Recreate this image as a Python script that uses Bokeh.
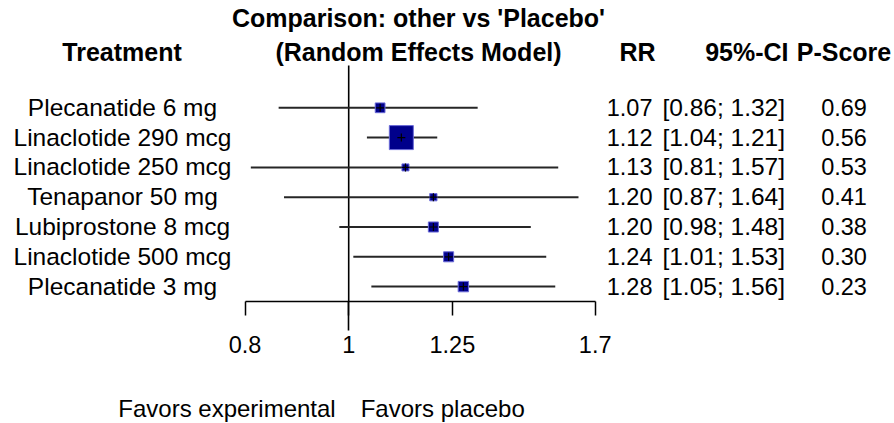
import math
from bokeh.plotting import figure
from bokeh.layouts import column
from bokeh.models import Range1d, FixedTicker, ColumnDataSource
from bokeh.core.properties import value
from bokeh.embed import file_html
from bokeh.resources import INLINE

# ---- data ----
treatments = ["Plecanatide 6 mg", "Linaclotide 290 mcg", "Linaclotide 250 mcg",
              "Tenapanor 50 mg", "Lubiprostone 8 mcg", "Linaclotide 500 mcg",
              "Plecanatide 3 mg"]
rr = [1.07, 1.12, 1.13, 1.20, 1.20, 1.24, 1.28]
lower = [0.86, 1.04, 0.81, 0.87, 0.98, 1.01, 1.05]
upper = [1.32, 1.21, 1.57, 1.64, 1.48, 1.53, 1.56]
pscore = [0.69, 0.56, 0.53, 0.41, 0.38, 0.30, 0.23]
ticks = [0.8, 1.0, 1.25, 1.7]
tick_labels = ["0.8", "1", "1.25", "1.7"]

title1 = "Comparison: other vs 'Placebo'"
title2 = "(Random Effects Model)"
headers = ["Treatment", "RR", "95%-CI", "P-Score"]
label_left = "Favors experimental"
label_right = "Favors placebo"

# ---- layout geometry (pixels of the 894x423 page) ----
W, H = 894, 423
HT = 372          # height of the forest part (rows + axis)
K = 464.5         # px per ln(RR) unit
X1 = 348.2        # px of RR = 1
ROW0 = 107.3      # px of first row
STEP = 29.8       # px between rows
FRAME_B = 301     # px of axis line
REF_TOP = 65      # px where the reference line starts
FONT = "Liberation Sans"
FS_NUM = "23.5px"
FS_CI = "24.5px"
FS_LAB = "24.5px"
FS_FAV = "24px"
FSB = "25px"


def xd(px):
    return math.exp((px - X1) / K)


def yd(py):
    return (py - ROW0) / STEP


ys = list(range(len(treatments)))
ci_w = [math.log(u / l) for l, u in zip(lower, upper)]
box = [22.0 * min(ci_w) / w + 2.0 for w in ci_w]
TY = -0.5 / STEP   # text centring tweak relative to the row line

src = ColumnDataSource(dict(
    y=ys, ty=[y + TY for y in ys], name=treatments, rr=rr, lo=lower, hi=upper,
    box=box,
    rr_txt=[f"{v:.2f}" for v in rr],
    ci_txt=[f"[{l:.2f}; {u:.2f}]" for l, u in zip(lower, upper)],
    ps_txt=[f"{v:.2f}" for v in pscore],
))

p = figure(width=W, height=HT, x_axis_type="log",
           x_range=Range1d(xd(0), xd(W)),
           y_range=Range1d(yd(FRAME_B), yd(0)),
           output_backend="svg", toolbar_location=None, y_axis_location=None,
           min_border_left=0, min_border_right=0, min_border_top=0,
           min_border_bottom=HT - FRAME_B)
p.grid.visible = False
p.outline_line_color = None

# reference line at RR = 1
p.segment(x0=1.0, y0=yd(REF_TOP), x1=1.0, y1=yd(FRAME_B), line_color="black", line_width=1.6)

# confidence intervals, boxes, centre crosses
p.segment(x0="lo", y0="y", x1="hi", y1="y", source=src, line_color="#262626", line_width=2)
p.scatter(x="rr", y="y", size="box", marker="square", source=src,
          fill_color="#00008B", line_color="#6a6ad8", line_width=1)
p.scatter(x="rr", y="y", size=8, marker="cross", source=src,
          line_color="black", line_width=1.2)

common = dict(text_font=value(FONT), text_color="black", text_baseline="middle")

# row texts
p.text(x=xd(122), y="ty", text="name", source=src, text_align="center",
       text_font_size=FS_LAB, **common)
p.text(x=xd(652), y="ty", text="rr_txt", source=src, text_align="right",
       text_font_size=FS_NUM, **common)
p.text(x=xd(784.5), y="ty", text="ci_txt", source=src, text_align="right",
       text_font_size=FS_CI, **common)
p.text(x=xd(843.5), y="ty", text="ps_txt", source=src, text_align="center",
       text_font_size=FS_NUM, **common)

# headers
bold = dict(common, text_font_size=FSB, text_font_style="bold")
p.text(x=[xd(418), xd(418)], y=[yd(17.5), yd(51)], text=[title1, title2],
       text_align="center", **bold)
p.text(x=[xd(121.5)], y=[yd(51)], text=[headers[0]], text_align="center", **bold)
p.text(x=[xd(655), xd(788)], y=[yd(51), yd(51)], text=[headers[1], headers[2]],
       text_align="right", **bold)
p.text(x=[xd(843.5)], y=[yd(51)], text=[headers[3]], text_align="center", **bold)

# x axis
ax = p.xaxis[0]
ax.ticker = FixedTicker(ticks=ticks, minor_ticks=[1.0])
ax.bounds = (min(ticks), max(ticks))
ax.axis_line_color = "black"
ax.axis_line_width = 1.5
ax.major_tick_line_color = "black"
ax.major_tick_line_width = 1.5
ax.minor_tick_line_color = "black"
ax.minor_tick_line_width = 1.6
ax.major_tick_in = 0
ax.major_tick_out = 14
ax.minor_tick_in = 0
ax.minor_tick_out = 29
ax.major_label_overrides = {t: s for t, s in zip(ticks, tick_labels)}
ax.major_label_text_font = FONT
ax.major_label_text_font_size = FS_NUM
ax.major_label_text_color = "black"
ax.major_label_standoff = 5

# bottom strip: favours labels around RR = 1
q = figure(width=W, height=H - HT, x_axis_type="log",
           x_range=Range1d(xd(0), xd(W)), y_range=Range1d(H, HT),
           output_backend="svg", toolbar_location=None,
           x_axis_location=None, y_axis_location=None,
           min_border=0)
q.grid.visible = False
q.outline_line_color = None
q.text(x=[1.0], y=[408], x_offset=-13, text=[label_left], text_align="right",
       text_font_size=FS_FAV, **common)
q.text(x=[1.0], y=[408], x_offset=12, text=[label_right], text_align="left",
       text_font_size=FS_FAV, **common)

layout = column(p, q, spacing=0)
open("out.html", "w").write(file_html(layout, INLINE))
